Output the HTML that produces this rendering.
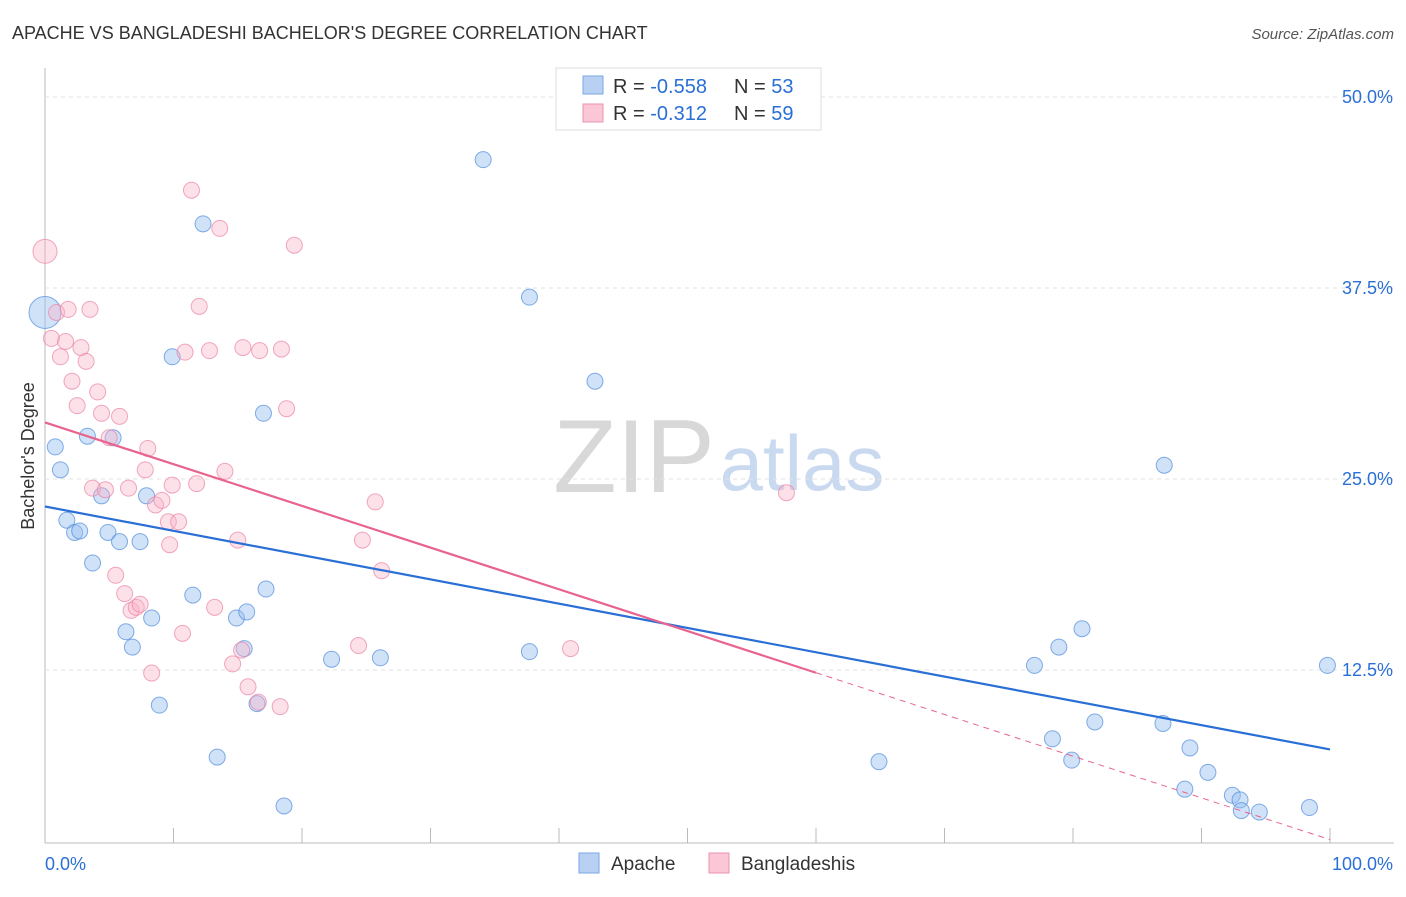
<!DOCTYPE html>
<html><head><meta charset="utf-8"><style>
body{margin:0;background:#fff;font-family:"Liberation Sans",sans-serif}
svg text{font-family:"Liberation Sans",sans-serif}
</style></head><body>
<svg id="c" width="1406" height="892">
<text x="12" y="39" font-size="18" fill="#333">APACHE VS BANGLADESHI BACHELOR'S DEGREE CORRELATION CHART</text>
<text x="1394" y="39" font-size="15" fill="#555" font-style="italic" text-anchor="end">Source: ZipAtlas.com</text>
<text x="34" y="456" font-size="18" fill="#333" text-anchor="middle" transform="rotate(-90 34 456)">Bachelor's Degree</text>
<g><text x="634" y="492" font-size="104" fill="#d8d8d8" font-family="Liberation Serif" text-anchor="middle">ZIP</text><text x="802" y="490" font-size="78" fill="#c9d9f0" text-anchor="middle">atlas</text></g>
<g id="grid"></g><g id="pts"></g><g id="lines"></g>
<g>
<rect x="556" y="68" width="265" height="62" fill="#fff" stroke="#ddd"/>
<rect x="583" y="76" width="20" height="18" fill="#b8d1f3" stroke="#7aa6e6"/>
<rect x="583" y="104" width="20" height="18" fill="#fbc6d5" stroke="#ee93ae"/>
<text x="613" y="93" font-size="20" fill="#333">R = <tspan fill="#2a6fd6">-0.558</tspan></text>
<text x="734" y="93" font-size="20" fill="#333">N = <tspan fill="#2a6fd6">53</tspan></text>
<text x="613" y="120" font-size="20" fill="#333">R =  <tspan fill="#2a6fd6">-0.312</tspan></text>
<text x="734" y="120" font-size="20" fill="#333">N = <tspan fill="#2a6fd6">59</tspan></text>
</g>
<g>
<rect x="579" y="853" width="20" height="20" fill="#b8d1f3" stroke="#7aa6e6"/>
<text x="611" y="870" font-size="19" fill="#333">Apache</text>
<rect x="709" y="853" width="20" height="20" fill="#fbc6d5" stroke="#ee93ae"/>
<text x="741" y="870" font-size="19" fill="#333">Bangladeshis</text>
</g>
</svg>
<script>
const yTicks=[12.5,25,37.5,50];
const xTickLabels=["0.0%","100.0%"];
const apacheX=[0,0.8,1.2,1.7,2.3,2.7,3.3,3.7,4.4,4.9,5.3,5.8,6.3,6.8,7.4,7.9,8.3,8.9,9.9,11.5,12.3,13.4,14.9,15.5,15.7,16.5,17,17.2,18.6,22.3,26.1,34.1,37.7,37.7,42.8,64.9,77,78.4,78.9,79.9,80.7,81.7,87,87.1,88.7,89.1,90.5,92.4,93,93.1,94.5,98.4,99.8];
const apacheY=[35.9,27.1,25.6,22.3,21.5,21.6,27.8,19.5,23.9,21.5,27.7,20.9,15,14,20.9,23.9,15.9,10.2,33,17.4,41.7,6.8,15.9,13.9,16.3,10.3,29.3,17.8,3.6,13.2,13.3,45.9,13.7,36.9,31.4,6.5,12.8,8,14,6.6,15.2,9.1,9,25.9,4.7,7.4,5.8,4.3,4,3.3,3.2,3.5,12.8];
const apacheR=[16,8,8,8,8,8,8,8,8,8,8,8,8,8,8,8,8,8,8,8,8,8,8,8,8,8,8,8,8,8,8,8,8,8,8,8,8,8,8,8,8,8,8,8,8,8,8,8,8,8,8,8,8];
const banglaX=[0,0.5,0.9,1.2,1.6,1.8,2.1,2.5,2.8,3.2,3.5,3.7,4.1,4.4,4.7,5,5.5,5.8,6.2,6.5,6.7,7.1,7.4,8,7.8,8.3,8.6,9.1,9.6,9.7,9.9,10.4,10.7,10.9,11.4,11.8,12,12.8,13.2,13.6,14,14.6,15,15.3,15.4,15.8,16.6,16.7,18.4,18.3,18.8,19.4,24.4,24.7,25.7,26.2,40.9,57.7];
const banglaY=[39.9,34.2,35.9,33,34,36.1,31.4,29.8,33.6,32.7,36.1,24.4,30.7,29.3,24.3,27.7,18.7,29.1,17.5,24.4,16.4,16.6,16.8,27,25.6,12.3,23.3,23.6,22.2,20.7,24.6,22.2,14.9,33.3,43.9,24.7,36.3,33.4,16.6,41.4,25.5,12.9,21,13.8,33.6,11.4,10.4,33.4,33.5,10.1,29.6,40.3,14.1,21,23.5,19,13.9,24.1];
const banglaR=[12,8,8,8,8,8,8,8,8,8,8,8,8,8,8,8,8,8,8,8,8,8,8,8,8,8,8,8,8,8,8,8,8,8,8,8,8,8,8,8,8,8,8,8,8,8,8,8,8,8,8,8,8,8,8,8,8,8];
const apacheTrend=[23.2,7.3];
const banglaTrend=[28.7,1.4];
const sx=v=>45+v*12.85, sy=v=>861-v*15.28;
const NS="http://www.w3.org/2000/svg";
function mk(t,a,p){const e=document.createElementNS(NS,t);for(const k in a)e.setAttribute(k,a[k]);p.appendChild(e);return e;}
const grid=document.getElementById('grid');
mk('line',{x1:45,y1:68,x2:45,y2:843,stroke:'#bbb'},grid);
mk('line',{x1:45,y1:843,x2:1394,y2:843,stroke:'#bbb'},grid);
for(let i=0;i<=10;i++){const l=mk('line',{x1:sx(i*10),y1:843,x2:sx(i*10),y2:828,stroke:'#bbb'},grid);

}
yTicks.forEach(t=>{const l=mk('line',{x1:45,y1:sy(t),x2:1394,y2:sy(t),stroke:'#e2e2e2','stroke-dasharray':'4,4'},grid);


const tx=mk('text',{x:1393,y:sy(t)+6,'font-size':18,fill:'#2a6fd6','text-anchor':'end'},grid);tx.textContent=t.toFixed(1)+'%';

});
const a=mk('text',{x:45,y:870,'font-size':18,fill:'#2a6fd6'},grid);a.textContent=xTickLabels[0];


const b=mk('text',{x:1393,y:870,'font-size':18,fill:'#2a6fd6','text-anchor':'end'},grid);b.textContent=xTickLabels[1];


const pts=document.getElementById('pts');
apacheX.forEach((x,i)=>{const c=mk('circle',{cx:sx(x),cy:sy(apacheY[i]),r:apacheR[i],fill:'rgba(150,190,240,0.45)',stroke:'rgba(80,140,220,0.7)'},pts);

});
banglaX.forEach((x,i)=>{const c=mk('circle',{cx:sx(x),cy:sy(banglaY[i]),r:banglaR[i]||8,fill:'rgba(250,180,200,0.4)',stroke:'rgba(235,130,165,0.7)'},pts);

});
const L=document.getElementById('lines');
const at=mk('line',{x1:sx(0),y1:sy(apacheTrend[0]),x2:sx(100),y2:sy(apacheTrend[1]),stroke:'#2a6fd6','stroke-width':2.2},L);


const bm=banglaTrend[0]+(banglaTrend[1]-banglaTrend[0])*0.6;
const bt=mk('line',{x1:sx(0),y1:sy(banglaTrend[0]),x2:sx(60),y2:sy(bm),stroke:'#e8648f','stroke-width':2.2},L);


const bd=mk('line',{x1:sx(60),y1:sy(bm),x2:sx(100),y2:sy(banglaTrend[1]),stroke:'#e8648f','stroke-width':1,'stroke-dasharray':'6,5'},L);


</script>
</body></html>
